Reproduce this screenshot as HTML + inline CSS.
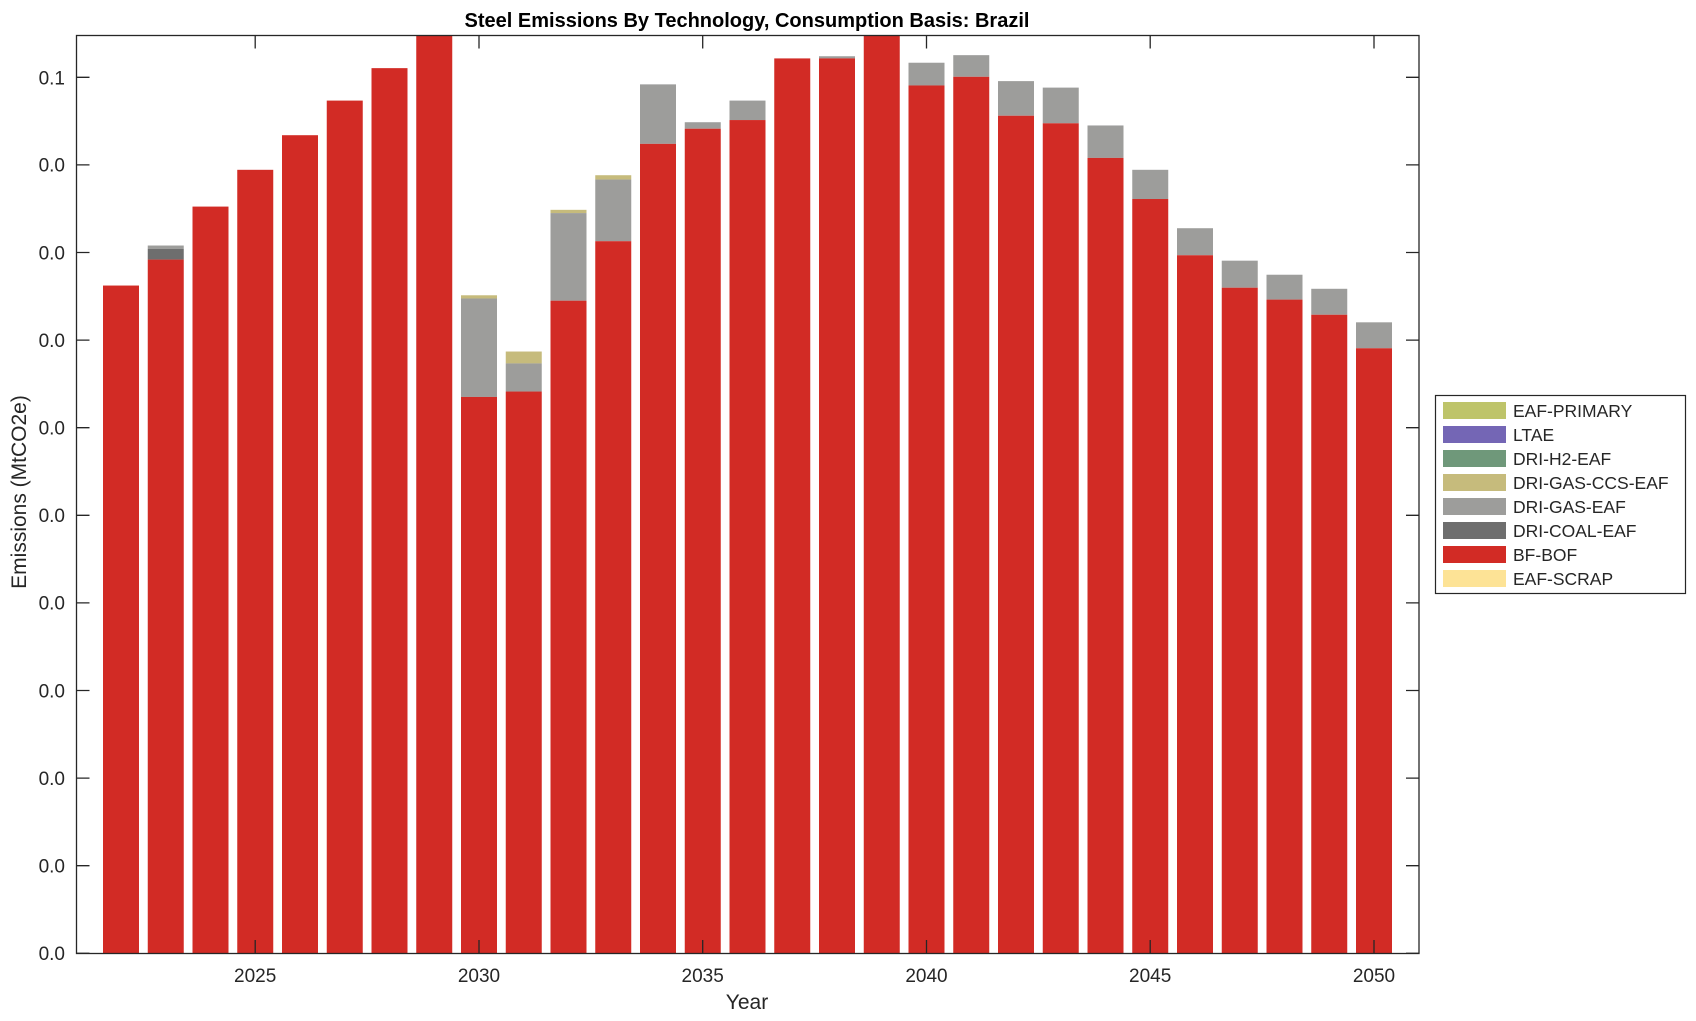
<!DOCTYPE html>
<html><head><meta charset="utf-8"><style>body{margin:0;background:#fff}svg{display:block}text{font-family:"Liberation Sans",Arial,sans-serif;fill:#262626}</style></head><body>
<svg width="1696" height="1021" viewBox="0 0 1696 1021" xmlns="http://www.w3.org/2000/svg">
<text x="747" y="27" font-size="20" font-weight="bold" text-anchor="middle" style="fill:#000">Steel Emissions By Technology, Consumption Basis: Brazil</text>
<g transform="matrix(1 0 0 1.0816 0 0)" stroke="none">
<rect x="103" y="264" width="36" height="617.5" fill="#d22b25"/>
<rect x="147.75" y="227" width="36" height="3" fill="#9d9d9b"/><rect x="147.75" y="230" width="36" height="10" fill="#6e6e6e"/><rect x="147.75" y="240" width="36" height="641.5" fill="#d22b25"/>
<rect x="192.5" y="191" width="36" height="690.5" fill="#d22b25"/>
<rect x="237.25" y="157" width="36" height="724.5" fill="#d22b25"/>
<rect x="282" y="125" width="36" height="756.5" fill="#d22b25"/>
<rect x="326.75" y="93" width="36" height="788.5" fill="#d22b25"/>
<rect x="371.5" y="63" width="36" height="818.5" fill="#d22b25"/>
<rect x="416.25" y="33" width="36" height="848.5" fill="#d22b25"/>
<rect x="461" y="273" width="36" height="3" fill="#c6bb7c"/><rect x="461" y="276" width="36" height="91" fill="#9d9d9b"/><rect x="461" y="367" width="36" height="514.5" fill="#d22b25"/>
<rect x="505.75" y="325" width="36" height="11" fill="#c6bb7c"/><rect x="505.75" y="336" width="36" height="26" fill="#9d9d9b"/><rect x="505.75" y="362" width="36" height="519.5" fill="#d22b25"/>
<rect x="550.5" y="194" width="36" height="3" fill="#c6bb7c"/><rect x="550.5" y="197" width="36" height="81" fill="#9d9d9b"/><rect x="550.5" y="278" width="36" height="603.5" fill="#d22b25"/>
<rect x="595.25" y="162" width="36" height="4" fill="#c6bb7c"/><rect x="595.25" y="166" width="36" height="57" fill="#9d9d9b"/><rect x="595.25" y="223" width="36" height="658.5" fill="#d22b25"/>
<rect x="640" y="78" width="36" height="55" fill="#9d9d9b"/><rect x="640" y="133" width="36" height="748.5" fill="#d22b25"/>
<rect x="684.75" y="113" width="36" height="6" fill="#9d9d9b"/><rect x="684.75" y="119" width="36" height="762.5" fill="#d22b25"/>
<rect x="729.5" y="93" width="36" height="18" fill="#9d9d9b"/><rect x="729.5" y="111" width="36" height="770.5" fill="#d22b25"/>
<rect x="774.25" y="54" width="36" height="827.5" fill="#d22b25"/>
<rect x="819" y="52" width="36" height="2" fill="#9d9d9b"/><rect x="819" y="54" width="36" height="827.5" fill="#d22b25"/>
<rect x="863.75" y="33" width="36" height="848.5" fill="#d22b25"/>
<rect x="908.5" y="58" width="36" height="21" fill="#9d9d9b"/><rect x="908.5" y="79" width="36" height="802.5" fill="#d22b25"/>
<rect x="953.25" y="51" width="36" height="20" fill="#9d9d9b"/><rect x="953.25" y="71" width="36" height="810.5" fill="#d22b25"/>
<rect x="998" y="75" width="36" height="32" fill="#9d9d9b"/><rect x="998" y="107" width="36" height="774.5" fill="#d22b25"/>
<rect x="1042.75" y="81" width="36" height="33" fill="#9d9d9b"/><rect x="1042.75" y="114" width="36" height="767.5" fill="#d22b25"/>
<rect x="1087.5" y="116" width="36" height="30" fill="#9d9d9b"/><rect x="1087.5" y="146" width="36" height="735.5" fill="#d22b25"/>
<rect x="1132.25" y="157" width="36" height="27" fill="#9d9d9b"/><rect x="1132.25" y="184" width="36" height="697.5" fill="#d22b25"/>
<rect x="1177" y="211" width="36" height="25" fill="#9d9d9b"/><rect x="1177" y="236" width="36" height="645.5" fill="#d22b25"/>
<rect x="1221.75" y="241" width="36" height="25" fill="#9d9d9b"/><rect x="1221.75" y="266" width="36" height="615.5" fill="#d22b25"/>
<rect x="1266.5" y="254" width="36" height="23" fill="#9d9d9b"/><rect x="1266.5" y="277" width="36" height="604.5" fill="#d22b25"/>
<rect x="1311.25" y="267" width="36" height="24" fill="#9d9d9b"/><rect x="1311.25" y="291" width="36" height="590.5" fill="#d22b25"/>
<rect x="1356" y="298" width="36" height="24" fill="#9d9d9b"/><rect x="1356" y="322" width="36" height="559.5" fill="#d22b25"/>
</g>
<rect x="76.5" y="35.5" width="1342.5" height="918" fill="none" stroke="#262626" stroke-width="1.3"/>
<g stroke="#262626" stroke-width="1.3">
<path d="M76.5 953.3h13M76.5 865.7h13M76.5 778.1h13M76.5 690.5h13M76.5 602.9h13M76.5 515.3h13M76.5 427.7h13M76.5 340.1h13M76.5 252.5h13M76.5 164.9h13M76.5 77.3h13"/>
<path d="M1419 953.3h-13M1419 865.7h-13M1419 778.1h-13M1419 690.5h-13M1419 602.9h-13M1419 515.3h-13M1419 427.7h-13M1419 340.1h-13M1419 252.5h-13M1419 164.9h-13M1419 77.3h-13"/>
<path d="M255.2 953v-13M479 953v-13M702.7 953v-13M926.5 953v-13M1150.2 953v-13M1374 953v-13"/>
<path d="M255.2 35.5v13M479 35.5v13M702.7 35.5v13M926.5 35.5v13M1150.2 35.5v13M1374 35.5v13"/>
</g>
<g font-size="19" text-anchor="end">
<text x="65" y="960">0.0</text><text x="65" y="872.5">0.0</text><text x="65" y="785">0.0</text><text x="65" y="697.5">0.0</text><text x="65" y="609.5">0.0</text><text x="65" y="522">0.0</text><text x="65" y="434.5">0.0</text><text x="65" y="347">0.0</text><text x="65" y="259.5">0.0</text><text x="65" y="171.5">0.0</text><text x="65" y="84.5">0.1</text>
</g>
<g font-size="19" text-anchor="middle">
<text x="255.2" y="982">2025</text><text x="479" y="982">2030</text><text x="702.7" y="982">2035</text><text x="926.5" y="982">2040</text><text x="1150.2" y="982">2045</text><text x="1374" y="982">2050</text>
<text x="747" y="1009" font-size="21">Year</text>
<text transform="translate(26,492) rotate(-90)" font-size="21">Emissions (MtCO2e)</text>
</g>
<rect x="1435.5" y="395.5" width="250" height="198" fill="#fff" stroke="#262626" stroke-width="1.2"/>
<g>
<rect x="1443" y="402" width="63" height="17" fill="#bec46a"/>
<rect x="1443" y="426" width="63" height="17" fill="#7466b5"/>
<rect x="1443" y="450" width="63" height="17" fill="#6f987a"/>
<rect x="1443" y="474" width="63" height="17" fill="#c6bb7c"/>
<rect x="1443" y="498" width="63" height="17" fill="#9d9d9b"/>
<rect x="1443" y="522" width="63" height="17" fill="#6e6e6e"/>
<rect x="1443" y="546" width="63" height="17" fill="#d22b25"/>
<rect x="1443" y="570" width="63" height="17" fill="#fde396"/>
</g>
<g font-size="17.5" style="fill:#000">
<text x="1513" y="417">EAF-PRIMARY</text><text x="1513" y="441">LTAE</text><text x="1513" y="465">DRI-H2-EAF</text><text x="1513" y="489">DRI-GAS-CCS-EAF</text><text x="1513" y="513">DRI-GAS-EAF</text><text x="1513" y="537">DRI-COAL-EAF</text><text x="1513" y="561">BF-BOF</text><text x="1513" y="585">EAF-SCRAP</text>
</g>
</svg>
</body></html>
